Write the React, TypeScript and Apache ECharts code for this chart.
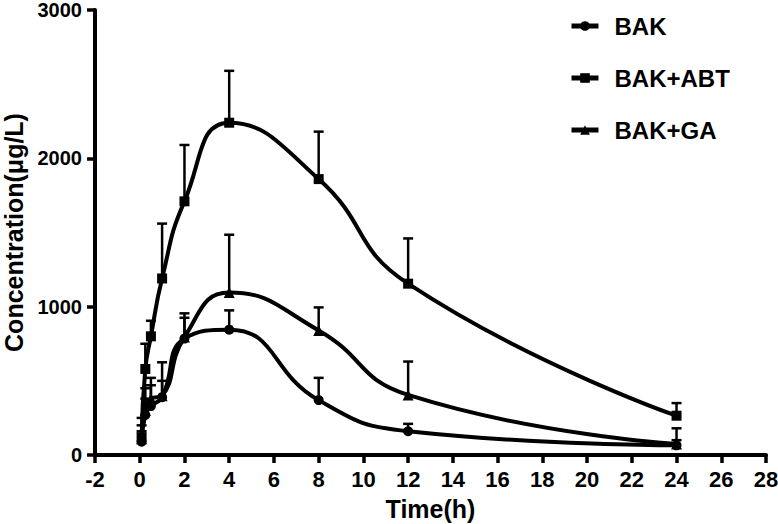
import React, { useEffect, useRef } from "react";
import * as echarts from "echarts";

const times = [0.083, 0.25, 0.5, 1, 2, 4, 8, 12, 24];
const bakMean = [90, 270, 330, 390, 785, 845, 370, 160, 65];
const bakUpper = [160, 380, 470, 500, 955, 975, 520, 210, 100];
const abtMean = [120, 580, 800, 1190, 1710, 2240, 1860, 1155, 265];
const abtUpper = [250, 750, 905, 1560, 2090, 2590, 2180, 1460, 350];
const gaMean = [110, 300, 380, 400, 795, 1095, 840, 405, 75];
const gaUpper = [200, 450, 520, 625, 925, 1485, 995, 630, 180];

const seriesNames = ["BAK", "BAK+ABT", "BAK+GA"];
const xTicks = { min: -2, max: 28, interval: 2 };
const yTicks = { min: 0, max: 3000, interval: 1000 };

const FONT = "'Liberation Sans', Arial, sans-serif";

function errSeries(mean: number[], upper: number[]) {
  return {
    type: "custom",
    silent: true,
    z: 1,
    data: times.map((t, i) => [t, mean[i], upper[i]]),
    encode: { x: 0, y: [1, 2] },
    renderItem: (params: any, api: any) => {
      const p = api.coord([api.value(0), api.value(1)]);
      const u = api.coord([api.value(0), api.value(2)]);
      const hw = 5;
      return {
        type: "group",
        children: [
          {
            type: "line",
            shape: { x1: p[0], y1: p[1], x2: u[0], y2: u[1] },
            style: { stroke: "#000", lineWidth: 2.5 },
          },
          {
            type: "line",
            shape: { x1: u[0] - hw, y1: u[1], x2: u[0] + hw, y2: u[1] },
            style: { stroke: "#000", lineWidth: 2.5 },
          },
        ],
      };
    },
  };
}

function lineSeries(name: string, mean: number[], symbol: string, size: number) {
  return {
    name,
    type: "line",
    smooth: 0.5,
    z: 3,
    data: times.map((t, i) => [t, mean[i]]),
    symbol,
    symbolSize: size,
    showAllSymbol: true,
    lineStyle: { color: "#000", width: 4 },
    itemStyle: { color: "#000" },
  };
}

export default function App() {
  const ref = useRef<HTMLDivElement>(null);
  useEffect(() => {
    if (!ref.current) return;
    const chart = echarts.init(ref.current, undefined, { renderer: "svg" });
    const axisLabel = { color: "#000", fontSize: 22, fontWeight: "bold", fontFamily: FONT };
    const nameStyle = { color: "#000", fontSize: 25, fontWeight: "bold", fontFamily: FONT };
    chart.setOption({
      animation: false,
      backgroundColor: "#fff",
      grid: { left: 95, right: 12, top: 10, bottom: 69, containLabel: false, outerBoundsMode: "none" },
      legend: {
        orient: "vertical",
        left: 569,
        top: 14,
        padding: 0,
        itemWidth: 27,
        itemHeight: 12,
        itemGap: 28,
        data: seriesNames,
        lineStyle: { width: 5 },
        textStyle: { color: "#000", fontSize: 24, fontWeight: "bold", fontFamily: FONT, padding: [0, 0, 0, 11] },
      },
      xAxis: {
        type: "value",
        min: xTicks.min,
        max: xTicks.max,
        interval: xTicks.interval,
        name: "Time(h)",
        nameLocation: "middle",
        nameGap: 41,
        nameTextStyle: nameStyle,
        splitLine: { show: false },
        axisLine: { onZero: false, lineStyle: { color: "#000", width: 4 } },
        axisTick: { length: 8, lineStyle: { color: "#000", width: 3.5 } },
        axisLabel: { ...axisLabel, margin: 13 },
      },
      yAxis: {
        type: "value",
        min: yTicks.min,
        max: yTicks.max,
        interval: yTicks.interval,
        name: "Concentration(μg/L)",
        nameLocation: "middle",
        nameGap: 67,
        nameTextStyle: nameStyle,
        splitLine: { show: false },
        axisLine: { show: true, onZero: false, lineStyle: { color: "#000", width: 4 } },
        axisTick: { show: true, length: 8, lineStyle: { color: "#000", width: 3.5 } },
        axisLabel: { ...axisLabel, fontSize: 20, lineHeight: 16, margin: 13, formatter: (v: number) => String(v) },
      },
      series: [
        errSeries(bakMean, bakUpper),
        errSeries(abtMean, abtUpper),
        errSeries(gaMean, gaUpper),
        lineSeries(seriesNames[0], bakMean, "circle", 10),
        lineSeries(seriesNames[1], abtMean, "rect", 10),
        lineSeries(seriesNames[2], gaMean, "triangle", 11),
      ],
    });
    return () => chart.dispose();
  }, []);
  return <div ref={ref} style={{ width: 778, height: 524, position: "absolute", left: 0, top: 0 }} />;
}
